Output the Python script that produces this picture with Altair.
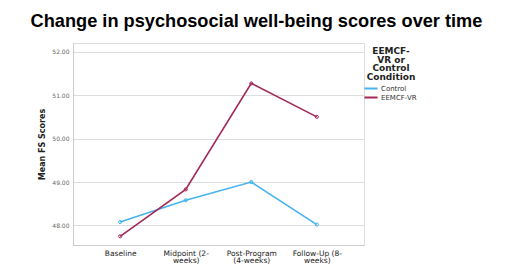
import altair as alt
import pandas as pd

timepoints = ["Baseline", "Midpoint (2-weeks)", "Post-Program (4-weeks)", "Follow-Up (8-weeks)"]
control = [48.08, 48.58, 49.00, 48.02]
eemcf_vr = [47.75, 48.83, 51.27, 50.50]
groups = ["Control", "EEMCF-VR"]
colors = ["#45b3f0", "#a3285a"]

rows = []
for t, c, v in zip(timepoints, control, eemcf_vr):
    rows.append({"time": t, "group": "Control", "score": c})
    rows.append({"time": t, "group": "EEMCF-VR", "score": v})
df = pd.DataFrame(rows)

label_expr = ("datum.value == 'Midpoint (2-weeks)' ? ['Midpoint (2-', 'weeks)'] : "
              "datum.value == 'Post-Program (4-weeks)' ? ['Post-Program', '(4-weeks)'] : "
              "datum.value == 'Follow-Up (8-weeks)' ? ['Follow-Up (8-', 'weeks)'] : datum.value")

x = alt.X("time:N", sort=timepoints,
          scale=alt.Scale(type="point", padding=0.72),
          axis=alt.Axis(title=None, labelExpr=label_expr, labelAngle=0, labelFontSize=7.5,
                        labelColor="#222", labelFont="DejaVu Sans", ticks=False,
                        domainColor="#cccccc", labelPadding=4, labelLineHeight=7.5))
y = alt.Y("score:Q", scale=alt.Scale(domain=[47.55, 52.2], nice=False, zero=False),
          axis=alt.Axis(title="Mean FS Scores", values=[48, 49, 50, 51, 52], format=".2f",
                        labelFontSize=6, labelColor="#666", labelFont="DejaVu Sans",
                        titleFontSize=8, titleFont="DejaVu Sans", titleFontWeight="bold",
                        titleColor="#222", titlePadding=5, ticks=False,
                        domainColor="#cccccc", gridColor="#dddddd", labelPadding=4))
color = alt.Color("group:N", scale=alt.Scale(domain=groups, range=colors),
                  legend=alt.Legend(title=["EEMCF-", "VR or", "Control", "Condition"],
                                    orient="none", legendX=293, legendY=4,
                                    titleFontSize=9, titleFont="DejaVu Sans",
                                    titleFontWeight="bold", titleColor="#222",
                                    titleAnchor="middle", titleAlign="center",
                                    titleLineHeight=8.5, titlePadding=2,
                                    labelFontSize=7, labelFont="DejaVu Sans", labelColor="#333",
                                    symbolType="M-1.75,0H1.75", symbolSize=56, symbolStrokeWidth=2,
                                    rowPadding=0, labelOffset=5))

chart = alt.Chart(df).mark_line(strokeWidth=1.6, point=alt.OverlayMarkDef(filled=False, size=10, strokeWidth=1)).encode(
    x=x, y=y, color=color
).properties(
    width=291, height=202,
    title=alt.Title("Change in psychosocial well-being scores over time", fontSize=18.2,
                    font="Liberation Sans", fontWeight="bold", color="#000",
                    anchor="middle", dx=38, offset=12),
    autosize=alt.AutoSizeParams(type="none"),
    padding={"left": 65, "top": 35, "right": 134, "bottom": 19}
).configure_view(stroke=None).configure(background="white")

chart.save("out.html", embed_options={"renderer": "svg", "actions": False})
